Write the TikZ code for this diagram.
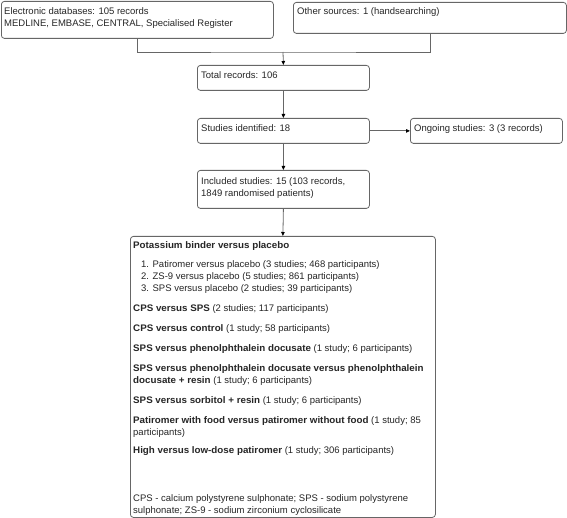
\documentclass[tikz,border=0pt]{standalone}
\usepackage{fontspec}
\setmainfont{Liberation Sans}[BoldFeatures={FakeStretch=1.03}]
\usetikzlibrary{arrows.meta}
\begin{document}
\begin{tikzpicture}[x=1pt,y=-1pt,
  box/.style={draw=black!60, line width=0.8pt, rounded corners=3pt, inner sep=0pt, anchor=north west, fill=white},
  txt/.style={anchor=base west, inner sep=0pt, text=black!85, font=\fontsize{9.5}{12}\selectfont},
  conn/.style={draw=black!60, line width=0.8pt},
  arr/.style={conn, -{Triangle[length=4pt,width=3.5pt,color=black]}}]
\useasboundingbox (0,0) rectangle (567,518);
% boxes
\node[box, minimum width=272pt, minimum height=37pt] (e) at (1,1) {};
\node[box, minimum width=273pt, minimum height=31pt] (o) at (293,2) {};
\node[box, minimum width=172pt, minimum height=25pt] (tot) at (197,65) {};
\node[box, minimum width=172pt, minimum height=25pt] (st) at (197,118) {};
\node[box, minimum width=152pt, minimum height=25pt] (og) at (410,118) {};
\node[box, minimum width=172pt, minimum height=38pt] (inc) at (197,170) {};
\node[box, minimum width=305pt, minimum height=281pt] (big) at (130,236) {};
% texts
\node[txt] (e1) at (4,14.5) {Electronic databases: 105 records};
\node[txt] (e2) at (4,26.5) {MEDLINE, EMBASE, CENTRAL, Specialised Register};
\node[txt] (o1) at (297,14.5) {Other sources: 1 (handsearching)};
\node[txt] (t1) at (201,79) {Total records: 106};
\node[txt] (s1) at (201,131.5) {Studies identified: 18};
\node[txt] (g1) at (414,131.5) {Ongoing studies: 3 (3 records)};
\node[txt] (i1) at (201,184.5) {Included studies: 15 (103 records,};
\node[txt] (i2) at (201,196.5) {1849 randomised patients)};
% big box content
\node[txt] (b1) at (133,248.5) {\textbf{Potassium binder versus placebo}};
\node[txt] (b2) at (141,267.5) {1. Patiromer versus placebo (3 studies; 468 participants)};
\node[txt] (b3) at (141,279.5) {2. ZS-9 versus placebo (5 studies; 861 participants)};
\node[txt] (b4) at (141,291.5) {3. SPS versus placebo (2 studies; 39 participants)};
\node[txt] (b5) at (133,311.5) {\textbf{CPS versus SPS} (2 studies; 117 participants)};
\node[txt] (b6) at (133,331.5) {\textbf{CPS versus control} (1 study; 58 participants)};
\node[txt] (b7) at (133,351.5) {\textbf{SPS versus phenolphthalein docusate} (1 study; 6 participants)};
\node[txt] (b8) at (133,371.5) {\textbf{SPS versus phenolphthalein docusate versus phenolphthalein}};
\node[txt] (b9) at (133,383.5) {\textbf{docusate + resin} (1 study; 6 participants)};
\node[txt] (b10) at (133,403.5) {\textbf{SPS versus sorbitol + resin} (1 study; 6 participants)};
\node[txt] (b11) at (133,423) {\textbf{Patiromer with food versus patiromer without food} (1 study; 85};
\node[txt] (b12) at (133,435) {participants)};
\node[txt] (b13) at (133,453.5) {\textbf{High versus low-dose patiromer} (1 study; 306 participants)};
\node[txt] (b14) at (133,501.5) {CPS - calcium polystyrene sulphonate; SPS - sodium polystyrene};
\node[txt] (b15) at (133,513.5) {sulphonate; ZS-9 - sodium zirconium cyclosilicate};
% connectors
\coordinate (j) at (283,52);
\draw[conn] (e.south) |- (j) -| (o.south);
\draw[arr] (j) -- (tot.north);
\draw[arr] (tot.south) -- (st.north);
\draw[arr] (st.east) -- (og.west);
\draw[arr] (st.south) -- (inc.north);
\draw[arr] (inc.south) -- (big.north);
\end{tikzpicture}
\end{document}
